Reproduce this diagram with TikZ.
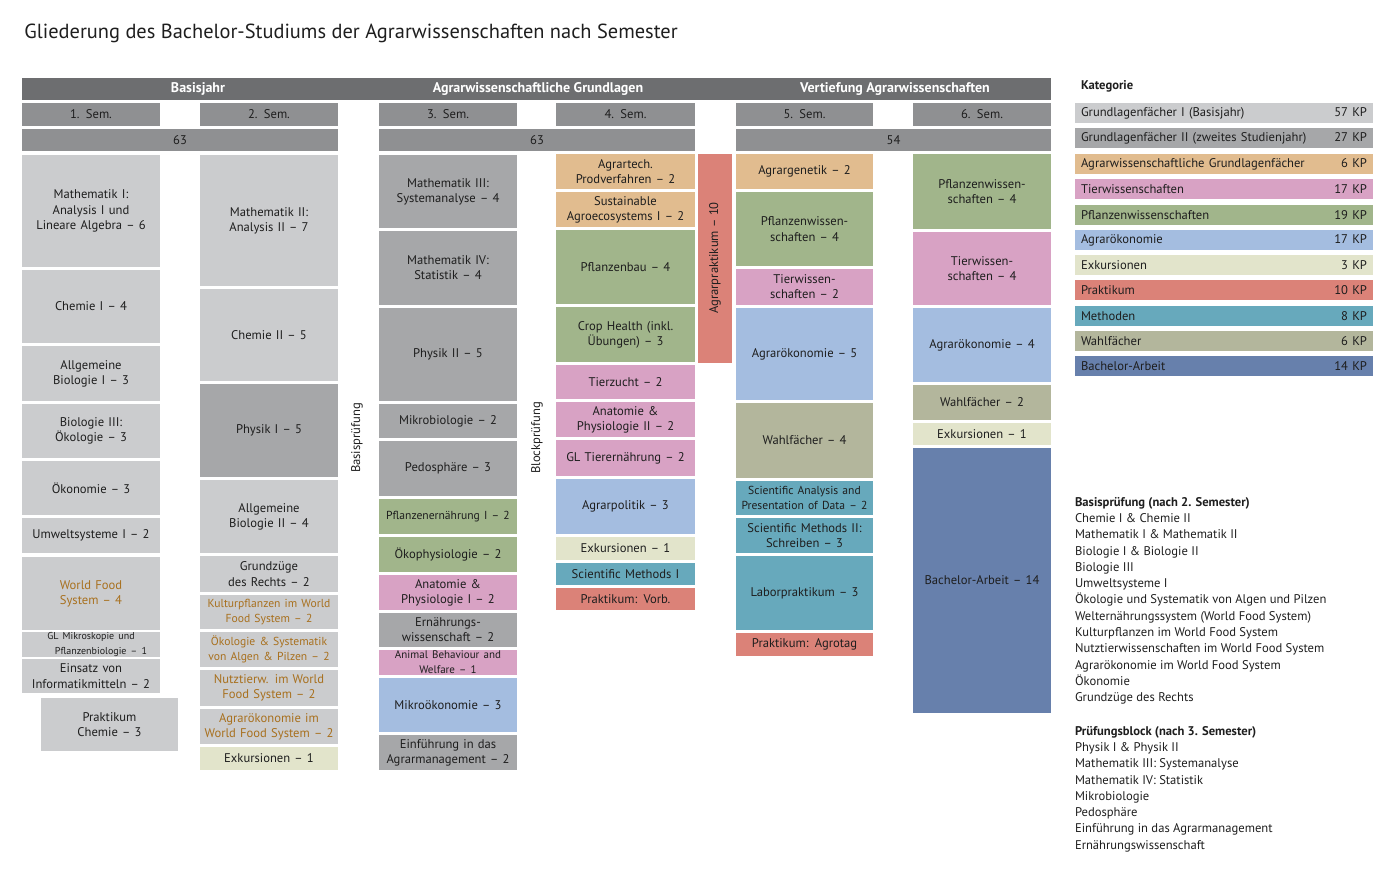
\documentclass[tikz,border=0pt]{standalone}
\usepackage{fontspec}
\setmainfont{PT Sans}
\definecolor{gA}{HTML}{CBCCCE}
\definecolor{gB}{HTML}{A6A7A9}
\definecolor{hd}{HTML}{6D6E70}
\definecolor{sm}{HTML}{8F9092}
\definecolor{cO}{HTML}{E1BC8F}
\definecolor{cP}{HTML}{D8A2C4}
\definecolor{cG}{HTML}{A1B58B}
\definecolor{cB}{HTML}{A4BDE0}
\definecolor{cE}{HTML}{E2E4CB}
\definecolor{cR}{HTML}{DB8278}
\definecolor{cM}{HTML}{67A9BC}
\definecolor{cW}{HTML}{B3B69C}
\definecolor{cBA}{HTML}{6780AC}
\definecolor{brn}{HTML}{A8701E}
\definecolor{txt}{HTML}{1E1E1E}
\tikzset{box/.style={inner sep=0pt,outer sep=0pt,align=center,font=\fontsize{6.3}{7.6}\selectfont,text=txt}}
\newcommand\bx[8][txt]{%
\pgfmathsetmacro\bw{(#5-#3)*0.5}\pgfmathsetmacro\bh{(#6-#4)*0.5}\pgfmathsetmacro\tw{\bw-3}%
\node[box,fill=#7,text=#1,minimum width=\bw pt,minimum height=\bh pt,text width=\tw pt] (#2) at ({(#3+#5)/2},{(#4+#6)/2}) {#8};}
\newcommand\lgd[5]{%
\node[box,fill=#3,minimum width=149pt,minimum height=10pt,text width=143pt,align=left] (#1) at (1224,{#2+10}) {#4\hfill #5};}
\begin{document}
\begin{tikzpicture}[x=0.5pt,y=-0.5pt]
\useasboundingbox (0,0) rectangle (1400,875);
\node[anchor=west,font=\fontsize{10.2}{12}\selectfont,text=txt,inner sep=0] (title) at (24,33) {Gliederung des Bachelor-Studiums der Agrarwissenschaften nach Semester};
% headers
\bx[white]{hbar}{22}{78}{1051}{100}{hd}{}
\node[font=\bfseries\fontsize{7}{8}\selectfont,text=white] (h1) at (198,89) {Basisjahr};
\node[font=\bfseries\fontsize{7}{8}\selectfont,text=white] (h2) at (538,89) {Agrarwissenschaftliche Grundlagen};
\node[font=\bfseries\fontsize{7}{8}\selectfont,text=white] (h3) at (895,89) {Vertiefung Agrarwissenschaften};
\bx{s1}{22}{103}{160}{126}{sm}{1. Sem.}
\bx{s2}{200}{103}{338}{126}{sm}{2. Sem.}
\bx{s3}{379}{103}{517}{126}{sm}{3. Sem.}
\bx{s4}{556}{103}{695}{126}{sm}{4. Sem.}
\bx{s5}{736}{103}{873}{126}{sm}{5. Sem.}
\bx{s6}{913}{103}{1051}{126}{sm}{6. Sem.}
\bx{k1}{22}{129}{338}{151}{sm}{63}
\bx{k2}{379}{129}{695}{151}{sm}{63}
\bx{k3}{736}{129}{1051}{151}{sm}{54}
% col 1
\bx{a1}{22}{155}{160}{267}{gA}{Mathematik I:\\Analysis I und\\Lineare Algebra – 6}
\bx{a2}{22}{270}{160}{343}{gA}{Chemie I – 4}
\bx{a3}{22}{346}{160}{401}{gA}{Allgemeine\\Biologie I – 3}
\bx{a4}{22}{404}{160}{458}{gA}{Biologie III:\\Ökologie – 3}
\bx{a5}{22}{461}{160}{515}{gA}{Ökonomie – 3}
\bx{a6}{22}{518}{160}{553}{gA}{Umweltsysteme I – 2}
\bx[brn]{a7}{22}{557}{160}{630}{gA}{World Food\\System – 4}
\bx{a8}{22}{633}{160}{656}{gA}{\fontsize{5}{5.5}\selectfont GL Mikroskopie und\\\hspace*{2em}Pflanzenbiologie – 1}
\bx{a9}{22}{659}{160}{693}{gA}{Einsatz von\\Informatikmitteln – 2}
\bx{a10}{41}{698}{178}{751}{gA}{Praktikum\\Chemie – 3}
% col 2
\bx{b1}{200}{155}{338}{286}{gA}{Mathematik II:\\Analysis II – 7}
\bx{b2}{200}{289}{338}{381}{gA}{Chemie II – 5}
\bx{b3}{200}{384}{338}{477}{gB}{Physik I – 5}
\bx{b4}{200}{480}{338}{553}{gA}{Allgemeine\\Biologie II – 4}
\bx{b5}{200}{556}{338}{592}{gA}{Grundzüge\\des Rechts – 2}
\bx[brn]{b6}{200}{595}{338}{629}{gA}{\fontsize{5.8}{7.3}\selectfont Kulturpflanzen im World\\Food System – 2}
\bx[brn]{b7}{200}{632}{338}{667}{gA}{\fontsize{5.8}{7.3}\selectfont Ökologie \& Systematik\\von Algen \& Pilzen – 2}
\bx[brn]{b8}{200}{670}{338}{706}{gA}{Nutztierw. im World\\Food System – 2}
\bx[brn]{b9}{200}{709}{338}{744}{gA}{Agrarökonomie im\\World Food System – 2}
\bx{b10}{200}{747}{338}{770}{cE}{Exkursionen – 1}
\node[rotate=90,box] (bp) at (357,438) {Basisprüfung};
\node[rotate=90,box] (blp) at (537,438) {Blockprüfung};
% col 3
\bx{c1}{379}{155}{517}{228}{gB}{Mathematik III:\\Systemanalyse – 4}
\bx{c2}{379}{231}{517}{305}{gB}{Mathematik IV:\\Statistik – 4}
\bx{c3}{379}{308}{517}{401}{gB}{Physik II – 5}
\bx{c4}{379}{404}{517}{438}{gB}{Mikrobiologie – 2}
\bx{c5}{379}{441}{517}{496}{gB}{Pedosphäre – 3}
\bx{c6}{379}{499}{517}{534}{cG}{\fontsize{5.8}{7}\selectfont Pflanzenernährung I – 2}
\bx{c7}{379}{537}{517}{572}{cG}{Ökophysiologie – 2}
\bx{c8}{379}{575}{517}{610}{cP}{Anatomie \&\\Physiologie I – 2}
\bx{c9}{379}{613}{517}{647}{gB}{Ernährungs-\\wissenschaft – 2}
\bx{c10}{379}{650}{517}{675}{cP}{\fontsize{5.5}{5.8}\selectfont Animal Behaviour and\\Welfare – 1}
\bx{c11}{379}{678}{517}{732}{cB}{Mikroökonomie – 3}
\bx{c12}{379}{735}{517}{770}{gB}{Einführung in das\\Agrarmanagement – 2}
% col 4
\bx{d1}{556}{154}{695}{189}{cO}{Agrartech.\\Prodverfahren – 2}
\bx{d2}{556}{192}{695}{227}{cO}{Sustainable\\Agroecosystems I – 2}
\bx{d3}{556}{230}{695}{304}{cG}{Pflanzenbau – 4}
\bx{d4}{556}{307}{695}{362}{cG}{Crop Health (inkl.\\Übungen) – 3}
\bx{d5}{556}{365}{695}{399}{cP}{Tierzucht – 2}
\bx{d6}{556}{402}{695}{437}{cP}{Anatomie \&\\Physiologie II – 2}
\bx{d7}{556}{440}{695}{476}{cP}{GL Tierernährung – 2}
\bx{d8}{556}{479}{695}{534}{cB}{Agrarpolitik – 3}
\bx{d9}{556}{537}{695}{560}{cE}{Exkursionen – 1}
\bx{d10}{556}{563}{695}{585}{cM}{Scientific Methods I}
\bx{d11}{556}{588}{695}{610}{cR}{Praktikum: Vorb.}
\bx{ap}{698}{154}{732}{363}{cR}{}
\node[rotate=90,box] (apt) at (715,258) {Agrarpraktikum – 10};
% col 5
\bx{e1}{736}{154}{873}{189}{cO}{Agrargenetik – 2}
\bx{e2}{736}{192}{873}{266}{cG}{Pflanzenwissen-\\schaften – 4}
\bx{e3}{736}{269}{873}{305}{cP}{Tierwissen-\\schaften – 2}
\bx{e4}{736}{308}{873}{400}{cB}{Agrarökonomie – 5}
\bx{e5}{736}{403}{873}{478}{cW}{Wahlfächer – 4}
\bx{e6}{736}{481}{873}{515}{cM}{\fontsize{5.8}{7.3}\selectfont Scientific Analysis and\\Presentation of Data – 2}
\bx{e7}{736}{518}{873}{553}{cM}{Scientific Methods II:\\Schreiben – 3}
\bx{e8}{736}{556}{873}{630}{cM}{Laborpraktikum – 3}
\bx{e9}{736}{633}{873}{656}{cR}{Praktikum: Agrotag}
% col 6
\bx{f1}{913}{154}{1051}{229}{cG}{Pflanzenwissen-\\schaften – 4}
\bx{f2}{913}{232}{1051}{305}{cP}{Tierwissen-\\schaften – 4}
\bx{f3}{913}{308}{1051}{382}{cB}{Agrarökonomie – 4}
\bx{f4}{913}{385}{1051}{420}{cW}{Wahlfächer – 2}
\bx{f5}{913}{423}{1051}{445}{cE}{Exkursionen – 1}
\bx{f6}{913}{448}{1051}{713}{cBA}{Bachelor-Arbeit – 14}
% legend
\node[anchor=west,box,font=\bfseries\fontsize{6.3}{7.6}\selectfont] (kat) at (1081,86) {Kategorie};
\lgd{l1}{103}{gA}{Grundlagenfächer I (Basisjahr)}{57 KP}
\lgd{l2}{128}{gB}{Grundlagenfächer II (zweites Studienjahr)}{27 KP}
\lgd{l3}{154}{cO}{Agrarwissenschaftliche Grundlagenfächer}{6 KP}
\lgd{l4}{179}{cP}{Tierwissenschaften}{17 KP}
\lgd{l5}{205}{cG}{Pflanzenwissenschaften}{19 KP}
\lgd{l6}{230}{cB}{Agrarökonomie}{17 KP}
\lgd{l7}{255}{cE}{Exkursionen}{3 KP}
\lgd{l8}{280}{cR}{Praktikum}{10 KP}
\lgd{l9}{306}{cM}{Methoden}{8 KP}
\lgd{l10}{331}{cW}{Wahlfächer}{6 KP}
\lgd{l11}{356}{cBA}{Bachelor-Arbeit}{14 KP}
\node[anchor=north west,box,align=left,font=\fontsize{6.3}{8.15}\selectfont] (bpl) at (1075,497) {\textbf{Basisprüfung (nach 2. Semester)}\\Chemie I \& Chemie II\\Mathematik I \& Mathematik II\\Biologie I \& Biologie II\\Biologie III\\Umweltsysteme I\\Ökologie und Systematik von Algen und Pilzen\\Welternährungssystem (World Food System)\\Kulturpflanzen im World Food System\\Nutztierwissenschaften im World Food System\\Agrarökonomie im World Food System\\Ökonomie\\Grundzüge des Rechts};
\node[anchor=north west,box,align=left,font=\fontsize{6.3}{8.15}\selectfont] (pbl) at (1075,726) {\textbf{Prüfungsblock (nach 3. Semester)}\\Physik I \& Physik II\\Mathematik III: Systemanalyse\\Mathematik IV: Statistik\\Mikrobiologie\\Pedosphäre\\Einführung in das Agrarmanagement\\Ernährungswissenschaft};
\end{tikzpicture}
\end{document}
